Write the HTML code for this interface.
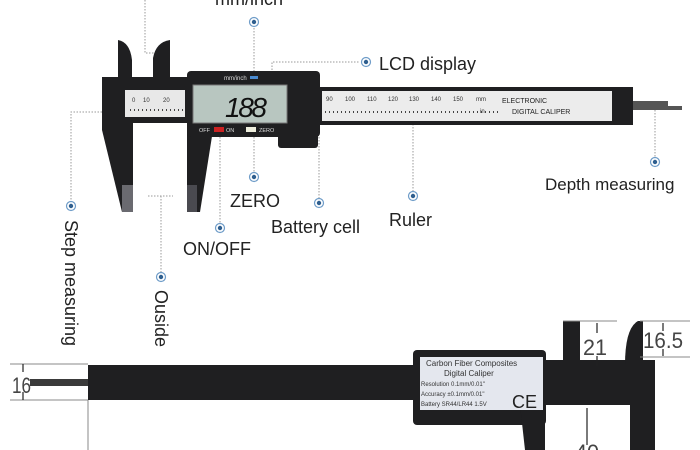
<!DOCTYPE html>
<html><head><meta charset="utf-8"><style>
html,body{margin:0;padding:0;background:#fff;width:700px;height:450px;overflow:hidden}
svg{display:block}
text{font-family:"Liberation Sans","DejaVu Sans",sans-serif}
</style></head><body>
<svg width="700" height="450" viewBox="0 0 700 450" xmlns="http://www.w3.org/2000/svg">
<defs>
<g id="dot"><circle r="4.5" fill="#fff" stroke="#6e9cc8" stroke-width="1.2"/><circle r="2.2" fill="#2f5f8f"/></g>
</defs>
<!-- leaders -->
<g stroke="#999" stroke-width="1" stroke-dasharray="1.5,1.5" fill="none">
<path d="M145 0 V53 H160"/>
<path d="M254 22 V85"/>
<path d="M272 70 V62 H360"/>
<path d="M254 137 V177"/>
<path d="M319 137 V203"/>
<path d="M413 121 V196"/>
<path d="M655 110 V162"/>
<path d="M220 137 V228"/>
<path d="M102 112 H71 V206"/>
<path d="M148 196 H173 M161 196 V277"/>
</g>
<use href="#dot" x="254" y="22"/><use href="#dot" x="366" y="62"/>
<use href="#dot" x="254" y="177"/><use href="#dot" x="319" y="203"/>
<use href="#dot" x="413" y="196"/><use href="#dot" x="655" y="162"/>
<use href="#dot" x="220" y="228"/><use href="#dot" x="71" y="206"/>
<use href="#dot" x="161" y="277"/>
<!-- top caliper -->
<g fill="#1f1f21">
<rect x="318" y="87" width="315" height="38"/>
<path d="M633 101 H668 V106 H682 V110 H633 Z" fill="#555"/>
<path d="M118 40 Q130 42 132 60 V77 H118 Z"/>
<path d="M153 77 V58 Q156 42 170 40 V77 Z"/>
<rect x="102" y="77" width="90" height="46"/>
<path d="M102 120 H133 V212 H122 L102 130 Z"/>
<path d="M187 130 H213 L200 212 H187 Z"/>
<rect x="187" y="71" width="133" height="66" rx="4"/>
<rect x="278" y="130" width="40" height="18" rx="3"/>
</g>
<rect x="122" y="185" width="11" height="27" fill="#6a6a70"/>
<rect x="187" y="185" width="10" height="27" fill="#4a4a50"/>
<rect x="125" y="90" width="60" height="27" fill="#e8e8e8"/>
<rect x="322" y="91" width="290" height="30" fill="#ececec"/>
<rect x="193" y="85" width="94" height="38" fill="#b8c6c0" stroke="#777"/>
<text x="225" y="117" font-size="28" font-style="italic" fill="#111" textLength="42">188</text>
<text x="224" y="80" font-size="6" fill="#ddd">mm/inch</text><rect x="250" y="76" width="8" height="3" fill="#4a8ad0"/>
<text x="199" y="132" font-size="5.5" fill="#ddd">OFF</text><rect x="214" y="127" width="10" height="5" fill="#c22"/>
<text x="226" y="132" font-size="5.5" fill="#ddd">ON</text><rect x="246" y="127" width="10" height="5" fill="#eed"/>
<text x="259" y="132" font-size="5.5" fill="#ddd">ZERO</text>
<g font-size="6" fill="#333"><text x="132" y="102">0</text><text x="143" y="102">10</text><text x="163" y="102">20</text>
<text x="326" y="101">90</text><text x="345" y="101">100</text><text x="367" y="101">110</text><text x="388" y="101">120</text><text x="409" y="101">130</text><text x="431" y="101">140</text><text x="453" y="101">150</text><text x="476" y="101">mm</text><text x="480" y="113">in</text></g>
<path d="M325 112 H500 M130 110 H183" stroke="#444" stroke-width="2" stroke-dasharray="1,3"/>
<text x="502" y="103" font-size="7" fill="#222">ELECTRONIC</text>
<text x="512" y="114" font-size="7" fill="#222">DIGITAL CALIPER</text>
<!-- labels -->
<g font-size="18" fill="#222">
<text x="215" y="5">mm/inch</text>
<text x="379" y="70">LCD display</text>
<text x="230" y="207">ZERO</text>
<text x="271" y="233">Battery cell</text>
<text x="389" y="226">Ruler</text>
<text x="545" y="190" font-size="17">Depth measuring</text>
<text x="183" y="255">ON/OFF</text>
<text transform="translate(65,220) rotate(90)">Step measuring</text>
<text transform="translate(155,290) rotate(90)">Ouside</text>
</g>
<!-- bottom caliper -->
<g fill="#1f1f21">
<rect x="30" y="379" width="60" height="7" fill="#3a3a3a"/>
<rect x="88" y="365" width="330" height="35"/>
<rect x="413" y="350" width="133" height="75" rx="4"/>
<rect x="540" y="360" width="115" height="45"/>
<path d="M563 321 H580 V368 H563 Z"/>
<path d="M625 365 Q625 328 638 321 H643 V365 Z"/>
<path d="M520 405 H545 V450 H525 Z"/>
<rect x="630" y="400" width="25" height="50"/>
</g>
<rect x="420" y="357" width="123" height="53" fill="#e4e7ee"/>
<g fill="#333" font-size="8"><text x="426" y="366">Carbon Fiber Composites</text><text x="444" y="376">Digital Caliper</text></g>
<g fill="#333" font-size="6"><text x="421" y="386">Resolution 0.1mm/0.01"</text><text x="421" y="396">Accuracy ±0.1mm/0.01"</text><text x="421" y="406">Battery SR44/LR44 1.5V</text></g>
<text x="512" y="408" font-size="18" fill="#222">CE</text>
<g stroke="#888" stroke-width="1" fill="none">
<path d="M10 364 H88 M10 400 H88 M88 400 V450"/>
<path d="M563 321 H617 M640 321 H690 M640 357 H690"/>
</g>
<g stroke="#222" stroke-width="1.2">
<path d="M23 364 V372 M23 392 V400"/><path d="M597 323 V333 M597 356 V366"/><path d="M663 323 V331 M663 349 V356"/><path d="M587 408 V445"/>
</g>
<g font-size="22" fill="#444">
<text x="12" y="393" textLength="19" lengthAdjust="spacingAndGlyphs">16</text>
<text x="583" y="355" textLength="24" lengthAdjust="spacingAndGlyphs">21</text>
<text x="643" y="348" textLength="40" lengthAdjust="spacingAndGlyphs">16.5</text>
<text x="575" y="460" textLength="24" lengthAdjust="spacingAndGlyphs">40</text>
</g>
</svg>
</body></html>
